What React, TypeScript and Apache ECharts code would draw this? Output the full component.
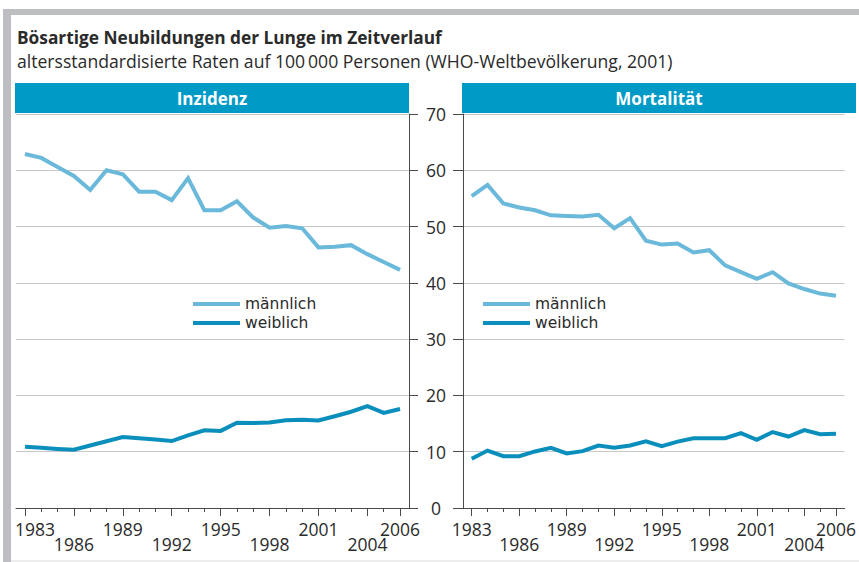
import React, { useEffect, useRef } from 'react';
import * as echarts from 'echarts';

const years = [1983, 1984, 1985, 1986, 1987, 1988, 1989, 1990, 1991, 1992, 1993, 1994, 1995, 1996, 1997, 1998, 1999, 2000, 2001, 2002, 2003, 2004, 2005, 2006];
const incidenceMale = [62.9, 62.2, 60.6, 59.0, 56.5, 60.0, 59.3, 56.2, 56.2, 54.7, 58.6, 52.9, 52.9, 54.5, 51.6, 49.8, 50.1, 49.7, 46.3, 46.4, 46.7, 45.1, 43.7, 42.3];
const incidenceFemale = [10.9, 10.7, 10.5, 10.35, 11.1, 11.85, 12.6, 12.4, 12.15, 11.9, 12.9, 13.8, 13.7, 15.15, 15.1, 15.2, 15.6, 15.7, 15.55, 16.3, 17.1, 18.1, 16.9, 17.6];
const mortalityMale = [55.4, 57.4, 54.1, 53.4, 52.9, 52.0, 51.9, 51.8, 52.1, 49.7, 51.5, 47.5, 46.8, 47.0, 45.4, 45.8, 43.1, 41.9, 40.7, 41.9, 39.9, 38.9, 38.1, 37.7];
const mortalityFemale = [8.75, 10.2, 9.2, 9.2, 10.05, 10.7, 9.7, 10.1, 11.1, 10.7, 11.1, 11.85, 11.0, 11.8, 12.4, 12.4, 12.4, 13.3, 12.1, 13.5, 12.7, 13.85, 13.1, 13.2];

const labelYearsUpper = [1983, 1989, 1995, 2001, 2006];
const labelYearsLower = [1986, 1992, 1998, 2004];
const panelTitles = ['Inzidenz', 'Mortalität'];
const seriesNames = ['männlich', 'weiblich'];
const titleText = 'Bösartige Neubildungen der Lunge im Zeitverlauf';
const subtitleText = 'altersstandardisierte Raten auf 100\u2009000 Personen (WHO-Weltbevölkerung, 2001)';

const FONT = '"Open Sans", "Noto Sans", sans-serif';
const LEGEND_FONT = '"DejaVu Sans", "Open Sans", sans-serif';
const C_HEAD = '#009ac7';
const C_MALE = '#6ab9da';
const C_FEMALE = '#0a8fbd';
const C_AXIS = '#4a4a4a';
const C_GRID = '#c8c8c8';
const C_TEXT = '#2a2a2a';

const X_MIN = 1982.45;
const X_MAX = 2006.55;

export default function App() {
  const ref = useRef<HTMLDivElement>(null);
  useEffect(() => {
    document.body.style.margin = '0';
    if (!ref.current) return;
    const chart = echarts.init(ref.current, undefined, { renderer: 'svg' });

    const grids = [
      { left: 16, top: 114, width: 393, height: 394 },
      { left: 463, top: 114, width: 392, height: 394 },
    ];

    const labelAxis = (gi: number, vals: number[], margin: number) => ({
      type: 'value', gridIndex: gi, min: X_MIN, max: X_MAX, position: 'bottom',
      axisLine: { show: false },
      axisTick: { show: true, customValues: vals, length: 8, lineStyle: { color: C_AXIS } },
      axisLabel: {
        customValues: vals,
        showMinLabel: true,
        showMaxLabel: true,
        hideOverlap: false,
        margin,
        fontSize: 17.5,
        color: C_TEXT,
        fontFamily: FONT,
        formatter: (v: number) => {
          const y = Math.round(v);
          if (gi === 0 && y === 1983) return '{s|1983}';
          return String(y);
        },
        rich: { s: { padding: [0, 0, 0, 20], fontSize: 17.5, fontFamily: FONT, color: C_TEXT } },
      },
      splitLine: { show: false },
    });

    const xAxes: any[] = [];
    [0, 1].forEach((gi) => {
      xAxes.push({
        type: 'value', gridIndex: gi, min: X_MIN, max: X_MAX, position: 'bottom',
        axisLine: { show: true, lineStyle: { color: C_AXIS, width: 1 } },
        axisTick: { show: true, customValues: years, length: 4, lineStyle: { color: C_AXIS } },
        axisLabel: { show: false },
        splitLine: { show: false },
      });
      xAxes.push(labelAxis(gi, labelYearsUpper, 12));
      xAxes.push(labelAxis(gi, labelYearsLower, 27));
    });

    const yAxes: any[] = [
      {
        type: 'value', gridIndex: 0, min: 0, max: 70, interval: 10, position: 'right',
        axisLine: { show: true, lineStyle: { color: C_AXIS } },
        axisTick: { show: true, length: 9, lineStyle: { color: C_AXIS } },
        axisLabel: { show: false },
        splitLine: { show: true, lineStyle: { color: C_GRID, width: 1 } },
      },
      {
        type: 'value', gridIndex: 1, min: 0, max: 70, interval: 10, position: 'left',
        axisLine: { show: true, lineStyle: { color: C_AXIS } },
        axisTick: { show: true, length: 10, lineStyle: { color: C_AXIS } },
        axisLabel: { show: true, margin: 27, align: 'center', fontSize: 17.5, color: C_TEXT, fontFamily: FONT, showMinLabel: true, showMaxLabel: true },
        splitLine: { show: true, lineStyle: { color: C_GRID, width: 1 } },
      },
    ];

    const mk = (name: string, vals: number[], gi: number, color: string) => ({
      type: 'line', name, xAxisIndex: gi * 3, yAxisIndex: gi,
      data: years.map((y, i) => [y, vals[i]]),
      symbol: 'none', lineStyle: { color, width: 4, join: 'miter' }, itemStyle: { color },
    });

    const legendBase = (left: number) => ({
      left, top: 296, orient: 'vertical', padding: 0, itemWidth: 47, itemHeight: 4, itemGap: 3,
      data: seriesNames.map((n) => ({ name: n, icon: 'rect' })),
      textStyle: { fontSize: 15.5, color: C_TEXT, fontFamily: LEGEND_FONT, lineHeight: 16 },
      selectedMode: false,
    });

    chart.setOption({
      animation: false,
      backgroundColor: '#ffffff',
      grid: grids,
      xAxis: xAxes,
      yAxis: yAxes,
      legend: [legendBase(193), legendBase(483)],
      series: [
        mk(seriesNames[0], incidenceMale, 0, C_MALE),
        mk(seriesNames[1], incidenceFemale, 0, C_FEMALE),
        mk(seriesNames[0], mortalityMale, 1, C_MALE),
        mk(seriesNames[1], mortalityFemale, 1, C_FEMALE),
      ],
      graphic: [
        { type: 'rect', shape: { x: 3, y: 9, width: 856, height: 6 }, style: { fill: '#bdbec1' }, silent: true },
        { type: 'rect', shape: { x: 3, y: 9, width: 8, height: 553 }, style: { fill: '#bdbec1' }, silent: true },
        { type: 'rect', shape: { x: 11, y: 560, width: 848, height: 2 }, style: { fill: '#ededed' }, silent: true },
        { type: 'text', x: 17, y: 37, style: { text: titleText, font: `bold 17.3px ${FONT}`, fill: C_TEXT, verticalAlign: 'middle' } },
        { type: 'text', x: 17, y: 61, style: { text: subtitleText, font: `17.6px ${FONT}`, fill: C_TEXT, verticalAlign: 'middle' } },
        { type: 'rect', shape: { x: 15, y: 83, width: 394, height: 30 }, style: { fill: C_HEAD } },
        { type: 'rect', shape: { x: 462, y: 83, width: 394, height: 30 }, style: { fill: C_HEAD } },
        { type: 'text', x: 212, y: 98, style: { text: panelTitles[0], font: `bold 17px ${FONT}`, fill: '#ffffff', align: 'center', verticalAlign: 'middle' } },
        { type: 'text', x: 659, y: 98, style: { text: panelTitles[1], font: `bold 17px ${FONT}`, fill: '#ffffff', align: 'center', verticalAlign: 'middle' } },
      ],
    });
    return () => chart.dispose();
  }, []);
  return <div ref={ref} style={{ position: 'absolute', left: 0, top: 0, width: 859, height: 562 }} />;
}
